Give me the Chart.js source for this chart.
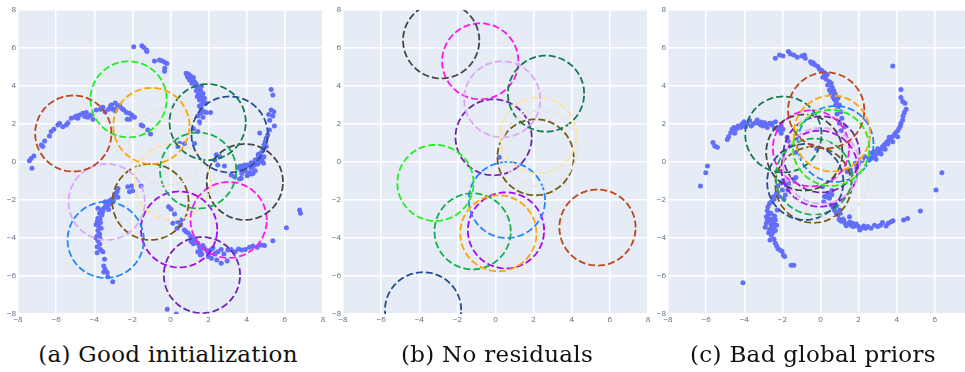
<!DOCTYPE html>
<html>
<head>
<meta charset="utf-8">
<script src="https://cdn.jsdelivr.net/npm/chart.js@4.4.0/dist/chart.umd.min.js"></script>
<style>
  html, body { margin: 0; padding: 0; background: #fff; overflow: hidden; }
  body { width: 965px; height: 372px; position: relative; }
  .panel { position: absolute; top: 0; width: 330px; height: 330px; }
  .caption {
    position: absolute; top: 341px; line-height: 26px;
    font-family: "DejaVu Serif", serif; font-size: 23px; letter-spacing: 0.3px; color: #111;
    white-space: nowrap; transform: translateX(-50%);
  }
</style>
</head>
<body>
<div class="panel" style="left:0px"><canvas id="c1" width="330" height="330"></canvas></div>
<div class="panel" style="left:325px"><canvas id="c2" width="330" height="330"></canvas></div>
<div class="panel" style="left:650px"><canvas id="c3" width="330" height="330"></canvas></div>
<div class="caption" style="left:168px">(a) Good initialization</div>
<div class="caption" style="left:497px">(b) No residuals</div>
<div class="caption" style="left:813px">(c) Bad global priors</div>

<script>
// axis ticks
const tickValues = [-8, -6, -4, -2, 0, 2, 4, 6, 8];
const circleRadius = 2;

// circle colours, same order for every panel
const circleColors = [
  "#c1441a", "#1ef01e", "#ffa500", "#e9e4dc", "#177a4f",
  "#274f8e", "#14ae4c", "#fde3a2", "#464646", "#dda6f7",
  "#7b5a0d", "#2185ff", "#a408f0", "#fd15ee", "#7023b0"
];

// (a) good initialization - circle centres
const goodCx = [-5.1, -2.2, -1.0, -0.2, 1.95, 3.1, 1.45, 0.1, 3.9, -3.35, -1.05, -3.4, 0.45, 3.05, 1.65];
const goodCy = [1.5, 3.3, 1.9, 0.8, 2.1, 1.45, -0.45, -1.05, -1.05, -2.1, -2.1, -4.1, -3.55, -3.05, -5.95];

// (b) no residuals
const noResCx = [5.35, -3.15, 0.15, 2.3, 2.65, -3.8, -1.2, 2.25, -2.85, 0.35, 2.1, 0.6, 0.55, -0.8, -0.1];
const noResCy = [-3.45, -1.1, -3.75, 0.7, 3.6, -7.8, -3.65, 1.4, 6.4, 3.3, 0.25, -2.0, -3.6, 5.3, 1.3];

// (c) bad global priors
const badCx = [0.3, 0.56, 0.6, 0.48, -1.95, -0.8, -0.35, 0.5, -0.85, 0.05, -0.37, 0.78, -0.05, -0.5, 0.05];
const badCy = [2.72, 0.74, 1.5, -0.95, 1.45, -1.05, -0.77, 0.8, 0.5, -0.2, -1.2, 0.95, -0.35, 0.72, 0.4];

// sample points
const goodPoints = [
  [-1.93,6.07],[-1.50,6.12],[-1.40,6.03],[-1.26,5.89],[-1.24,5.81],
  [-0.84,5.32],[-0.58,5.37],[-0.45,5.33],[-0.31,5.25],[-0.19,5.19],[-0.30,4.93],[-0.31,4.77],
  [0.82,4.67],[0.94,4.63],[1.05,4.53],[0.91,4.46],[1.08,4.40],[1.00,4.32],[1.17,4.28],[1.26,4.23],
  [1.12,4.14],[1.35,4.11],[1.43,3.96],[1.52,3.88],[1.57,3.79],[1.61,3.65],[1.47,3.61],[1.70,3.61],
  [1.57,3.47],[1.70,3.35],[1.78,3.35],[1.52,3.26],[1.70,3.18],[1.52,2.95],[1.61,2.82],[1.78,2.65],
  [1.57,2.56],[1.87,2.60],[2.10,2.60],[1.43,2.42],[1.70,2.35],[1.52,2.12],[1.5,2.04],[1.43,1.60],
  [1.26,0.98],[0.48,0.99],[0.39,0.82],[0.74,0.96],[1.2,1.75],[1.35,3.75],[1.62,4.0],
  [0.88,4.55],[1.2,4.45],[1.3,4.0],[1.45,3.75],[1.65,3.45],[1.85,3.1],[1.62,3.0],[1.4,3.45],
  [5.28,3.82],[5.37,3.53],[5.28,2.74],[5.42,2.65],[5.37,2.42],[5.45,1.89],[5.19,1.68],[5.10,1.42],
  [5.02,1.25],[4.97,1.07],[4.90,0.89],[5.02,0.81],[4.84,0.63],[4.72,0.46],[4.67,0.28],[4.90,0.28],
  [4.58,0.19],[4.44,0.11],[4.23,-0.04],[4.06,-0.16],[3.85,-0.25],[3.67,-0.21],[3.53,-0.28],[4.68,1.52],
  [3.98,-0.24],[3.8,-0.32],[3.63,-0.24],[4.33,-0.59],[4.06,-0.68],[3.71,-0.85],[2.4,0.38],[2.58,0.29],[2.32,0.11],
  [2.48,-0.16],[2.83,-0.21],[3.67,-0.39],[3.88,-0.16],[4.28,-0.28],[4.23,-0.33],[4.41,-0.16],[4.58,-0.11],
  [4.76,0.02],[4.88,-0.07],[4.14,-0.56],[4.27,-0.63],[4.02,-0.72],[3.74,-0.60],[3.92,-0.46],[4.44,-0.46],
  [3.62,-0.89],[3.36,-0.77],[3.18,-0.68],[4.5,0.0],[4.3,-0.1],[4.6,0.4],[5.2,2.2],[5.15,2.5],[4.8,0.1],
  [-7.31,0.19],[-7.17,0.32],[-7.27,-0.33],[-7.40,0.07],[-6.78,0.89],[-6.70,0.81],[-6.6,1.1],[-6.35,1.37],[-6.26,1.60],
  [-6.12,1.72],[-5.91,1.95],[-5.82,2.04],[-5.65,1.86],[-5.47,1.95],[-5.38,2.07],[-5.21,2.30],
  [-5.03,2.35],[-4.95,2.42],[-4.86,2.30],[-4.77,2.47],[-4.60,2.56],[-4.42,2.60],[-4.34,2.35],
  [-4.20,2.47],[-4.07,2.25],[-3.90,2.74],[-3.67,2.77],[-3.55,2.88],[-3.43,2.65],[-3.25,2.77],
  [-3.15,2.95],[-3.02,2.77],[-2.90,2.70],[-2.80,2.88],[-2.67,2.98],[-2.55,2.82],[-2.45,2.74],
  [-2.31,2.60],[-2.15,2.56],[-2.03,2.47],[-1.89,2.35],[-2.27,2.25],[-2.13,2.25],[-1.54,1.95],
  [-1.45,1.89],[-1.19,1.68],[-1.05,1.47],[-3.1,3.0],[-2.9,3.1],[-4.5,2.4],
  [-2.24,-1.30],[-2.03,-1.26],[-1.98,-1.51],[-2.15,-1.56],[-1.54,-1.26],[-2.76,-1.39],[-2.80,-1.56],
  [-2.90,-1.68],[-2.76,-1.86],[-2.94,-1.86],[-3.08,-1.96],[-3.20,-2.04],[-3.29,-2.14],[-3.43,-2.09],
  [-3.15,-2.21],[-3.32,-2.35],[-3.50,-2.44],[-3.64,-2.53],[-3.81,-2.44],[-3.72,-2.70],[-3.60,-2.79],
  [-3.81,-2.96],[-3.85,-3.14],[-3.67,-3.19],[-3.78,-3.37],[-3.64,-3.49],[-3.81,-3.61],[-3.72,-3.79],
  [-3.85,-3.89],[-3.81,-4.14],[-3.71,-4.32],[-3.85,-4.46],[-3.67,-4.60],[-3.55,-4.72],[-3.85,-4.77],
  [-3.46,-5.12],[-3.50,-5.47],[-3.43,-5.65],[-3.50,-5.79],[-3.32,-5.82],[-3.29,-6.04],[-3.03,-6.30],
  [-3.4,-2.3],[-3.55,-2.6],[-3.7,-3.0],[-3.9,-3.3],[-3.7,-4.0],[-3.0,-2.05],[-3.25,-2.5],[-3.9,-4.0],
  [-0.10,-2.35],[0.03,-2.49],[0.21,-2.74],[0.38,-3.14],[0.56,-3.05],[0.52,-3.32],[0.73,-3.58],
  [0.82,-3.67],[0.94,-3.75],[1.05,-3.89],[1.17,-4.07],[1.29,-4.11],[1.08,-4.19],[1.43,-4.28],
  [1.52,-4.46],[1.57,-4.63],[1.43,-4.72],[1.64,-4.84],[1.78,-4.54],[1.92,-4.67],[2.10,-4.63],
  [2.22,-4.54],[2.34,-4.81],[2.48,-4.72],[2.66,-4.60],[2.80,-4.84],[3.01,-4.63],[3.18,-4.60],
  [3.39,-4.72],[3.57,-4.58],[3.74,-4.63],[3.92,-4.60],[4.14,-4.49],[4.32,-4.42],[4.55,-4.49],
  [4.76,-4.37],[4.93,-4.39],[5.37,-4.14],[2.15,-5.07],[2.43,-5.16],[2.66,-5.33],[2.97,-5.21],
  [1.57,-4.89],[1.99,-4.98],[0.12,-3.23],[0.35,-3.49],[1.2,-4.3],[1.7,-4.4],[2.0,-4.8],
  [6.08,-3.46],[6.77,-2.53],[6.82,-2.70],[-0.17,-7.75],[0.30,-8.0]
];

const noResPoints = [[0.2, 0.25]];

const badPoints = [
  [-2.37,5.46],[-2.15,5.63],[-1.97,5.58],[-1.68,5.81],[-1.57,5.68],[-1.40,5.63],[-1.22,5.51],
  [-0.98,5.58],[-0.84,5.63],[-0.80,5.46],[-0.52,5.28],[-0.38,5.23],[-0.28,5.11],[-0.14,5.02],
  [-0.05,4.88],[0.07,4.81],[0.21,4.70],[0.12,4.46],[0.30,4.35],[0.47,4.23],[0.38,4.05],[0.56,4.14],
  [0.61,3.93],[0.47,3.79],[0.70,3.75],[0.77,3.58],[0.65,3.44],[0.91,3.35],[0.82,3.18],[0.99,3.00],
  [0.91,2.82],[1.08,2.65],[0.87,2.53],[1.12,2.30],[0.99,2.04],[1.26,1.86],[1.08,1.65],
  [0.35,4.6],[0.55,3.6],[0.8,3.0],[0.6,3.9],[0.2,4.55],[0.72,3.3],[-0.45,5.18],
  [-5.64,1.02],[-5.55,0.84],[-5.41,0.77],[-4.89,1.19],[-4.82,1.33],[-4.71,1.54],[-4.64,1.72],
  [-4.54,1.82],[-4.42,1.72],[-4.33,1.89],[-4.19,1.82],[-4.12,2.00],[-4.01,2.12],[-3.94,1.86],
  [-3.84,2.04],[-3.72,2.18],[-3.63,1.89],[-3.53,2.00],[-3.42,2.07],[-3.32,2.21],[-3.25,2.04],
  [-3.14,1.95],[-3.02,1.89],[-2.93,2.07],[-2.79,1.82],[-2.67,2.04],[-2.55,1.95],[-2.41,1.77],
  [-2.23,1.82],[-2.06,1.89],[-1.97,1.72],[-2.06,1.51],[-4.50,1.51],[-2.53,2.04],[-2.18,1.68],
  [-2.36,2.12],[-5.93,-0.21],[-6.02,-0.56],[-6.30,-1.26],[-3.9,1.95],[-3.1,2.1],[-2.85,1.95],
  [3.79,5.05],[4.22,3.82],[4.22,3.40],[4.31,3.18],[4.43,3.09],[4.49,2.77],[4.40,2.60],[4.33,2.42],
  [4.31,2.21],[4.22,2.04],[4.19,1.89],[4.12,1.77],[4.05,1.65],[3.94,1.54],[3.87,1.42],[3.77,1.33],
  [3.66,1.23],[3.56,1.12],[3.46,1.02],[3.35,0.91],[3.26,0.81],[3.18,0.67],[3.07,0.56],[2.97,0.46],
  [2.86,0.37],[2.76,0.28],[2.65,0.19],[2.55,0.11],[3.53,0.95],[3.39,0.67],[3.18,0.42],[2.91,0.14],
  [2.69,0.46],[2.44,0.28],[2.30,0.14],[2.16,0.07],[4.05,1.33],[3.79,1.07],[1.57,-0.42],[1.83,-0.07],
  [2.18,0.10],[2.36,0.28],[1.4,-0.5],[1.6,-0.6],[1.9,-0.3],[2.0,-0.1],[3.6,1.3],[3.0,0.7],[2.8,0.55],
  [6.37,-0.56],[6.06,-1.47],[5.24,-2.58],[-4.07,-6.35],
  [-2.76,-2.35],[-2.67,-2.18],[-2.58,-2.09],[-2.44,-1.96],[-2.37,-1.79],[-2.30,-1.65],[-2.50,-1.86],
  [-2.79,-2.56],[-2.72,-2.74],[-2.84,-2.88],[-2.72,-2.98],[-2.62,-3.09],[-2.83,-3.23],[-2.58,-3.32],
  [-2.90,-3.44],[-2.67,-3.54],[-2.48,-3.49],[-2.37,-3.61],[-2.72,-3.72],[-2.58,-3.86],[-2.65,-4.11],
  [-2.44,-4.07],[-2.37,-4.28],[-2.30,-4.42],[-2.23,-4.56],[-2.13,-4.63],[-2.02,-4.70],[-1.95,-4.89],
  [-1.88,-4.98],[-1.54,-5.44],[-1.40,-5.44],[-2.27,-2.53],[-2.41,-2.84],[-2.37,-3.05],[-2.44,-3.26],
  [-2.30,-3.33],[-2.23,-1.26],[-2.06,-1.09],[-1.95,-0.98],[-1.80,-1.21],[-1.61,-1.12],[-1.71,-1.47],
  [-1.29,-0.81],[-1.40,-0.91],[-1.85,-1.74],[-1.92,-1.96],[-1.83,-1.12],[-2.0,-1.47],[-2.18,-1.82],
  [-2.6,-2.7],[-2.55,-3.0],[-2.8,-3.1],[-2.5,-3.7],
  [0.21,-1.82],[0.17,-2.09],[0.38,-1.65],[0.47,-1.91],[0.56,-2.26],[0.66,-2.39],[0.73,-2.53],
  [0.82,-2.67],[0.91,-2.84],[0.98,-3.02],[1.08,-3.12],[1.12,-2.91],[1.22,-3.05],[1.29,-3.23],
  [1.43,-3.26],[1.54,-3.16],[1.61,-3.33],[1.69,-3.23],[1.78,-3.37],[1.88,-3.26],[1.99,-3.40],
  [2.06,-3.58],[2.16,-3.49],[2.27,-3.37],[2.37,-3.49],[2.48,-3.40],[2.65,-3.49],[2.83,-3.33],
  [3.00,-3.40],[3.14,-3.33],[3.25,-3.19],[3.44,-3.37],[3.56,-3.23],[3.70,-3.14],[3.80,-3.09],
  [4.36,-3.05],[4.57,-2.98],[1.52,-2.88],[1.01,-2.53],[0.82,-2.32],[0.35,-1.86],[0.59,-1.72],
  [1.35,-3.35],[1.7,-3.4],[1.05,-2.75],
  [-1.75,1.3],[-1.7,1.1],[-0.2,0.7],[-1.3,0.5],[0.6,-1.5],[0.1,-1.3]
];

function circlePath(cx, cy, r) {
  const pts = [];
  for (let i = 0; i <= 96; i++) {
    const a = (i / 96) * Math.PI * 2;
    pts.push({ x: cx + r * Math.cos(a), y: cy + r * Math.sin(a) });
  }
  return pts;
}

// paint the plot background
const plotBg = {
  id: "plotBg",
  beforeDraw(chart) {
    const { ctx, chartArea: a } = chart;
    ctx.save();
    ctx.fillStyle = "#e5ecf6";
    ctx.fillRect(a.left, a.top, a.right - a.left, a.bottom - a.top);
    ctx.restore();
  }
};

function tickLabel(v) {
  return v < 0 ? "\u2212" + Math.abs(v) : String(v);
}

function makeChart(id, points, cx, cy) {
  const datasets = cx.map((x, i) => ({
    type: "line",
    data: circlePath(x, cy[i], circleRadius),
    borderColor: circleColors[i],
    borderWidth: 1.8,
    borderDash: [7, 3],
    pointRadius: 0,
    fill: false,
    tension: 0,
    order: 1
  }));
  datasets.push({
    type: "scatter",
    data: points.map(p => ({ x: p[0], y: p[1] })),
    backgroundColor: "#636efa",
    borderWidth: 0,
    pointRadius: 2.5,
    order: 5
  });

  const axisCommon = {
    type: "linear",
    min: -8,
    max: 8,
    afterBuildTicks: s => { s.ticks = tickValues.map(v => ({ value: v })); },
    grid: { color: "#ffffff", lineWidth: 1.5, drawTicks: false },
    border: { display: false },
    ticks: {
      color: "#5b6b82",
      font: { family: "Open Sans", size: 8 },
      callback: tickLabel
    }
  };

  return new Chart(document.getElementById(id), {
    type: "scatter",
    data: { datasets },
    options: {
      responsive: false,
      animation: false,
      layout: { padding: { left: 0, right: 7, top: 10, bottom: 4 } },
      plugins: { legend: { display: false }, tooltip: { enabled: false } },
      scales: {
        x: Object.assign({}, axisCommon, {
          ticks: Object.assign({}, axisCommon.ticks, { padding: 1, maxRotation: 0 }),
          afterFit: s => { s.height = 12; }
        }),
        y: Object.assign({}, axisCommon, {
          ticks: Object.assign({}, axisCommon.ticks, { padding: 2 }),
          afterFit: s => { s.width = 18; }
        })
      }
    },
    plugins: [plotBg]
  });
}

makeChart("c1", goodPoints, goodCx, goodCy);
makeChart("c2", noResPoints, noResCx, noResCy);
makeChart("c3", badPoints, badCx, badCy);
</script>
</body>
</html>
